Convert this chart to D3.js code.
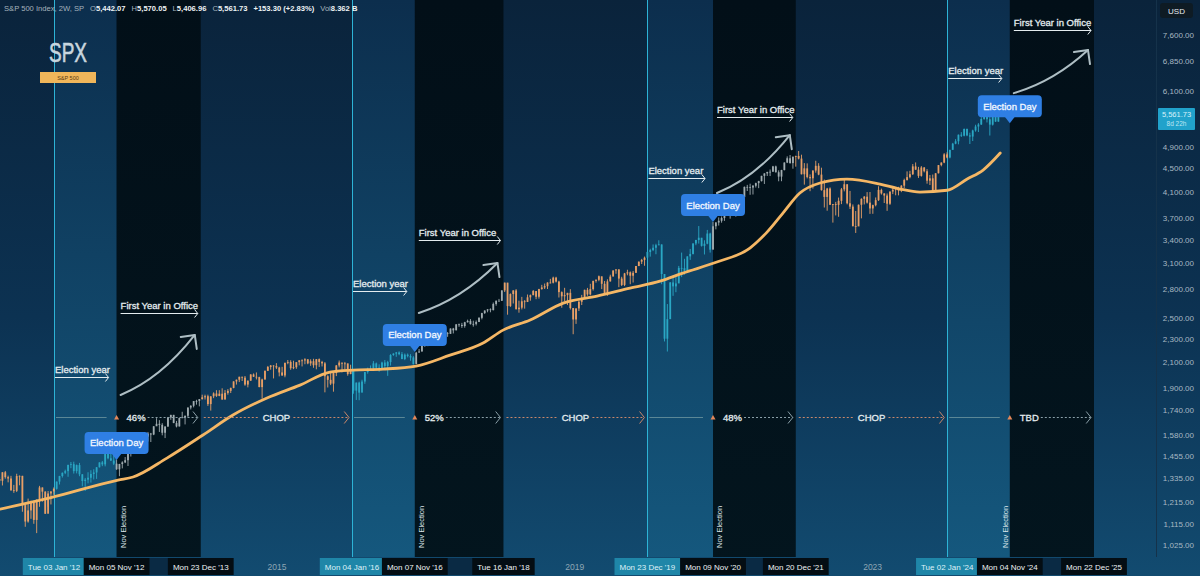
<!DOCTYPE html>
<html>
<head>
<meta charset="utf-8">
<script src="https://cdn.jsdelivr.net/npm/d3@7"></script>
<style>
  html, body { margin: 0; padding: 0; background: #0b2740; }
  svg { display: block; font-family: 'Liberation Sans', Arial, sans-serif; }
</style>
</head>
<body>
<svg id="chart" width="1200" height="576"></svg>
<script>
// ---- data (SPX, 2W bars; first bar opens 2011-04-11, one bar every 14 days) ----
const barStart = "2011-04-11";
const firstOpen = 1328;
const closes = [
  // 2011
  1319,1364,1338,1331,1271,1268,1344,1345,1199,1124,1174,1216,1131,1225,1285,1264,1159,1255,1265,1278,
  // 2012
  1315,1344,1361,1370,1404,1408,1370,1403,1353,1318,1325,1335,1355,1363,1391,1418,1407,1466,1441,1428,1411,1380,1409,1418,1430,1466,
  // 2013
  1486,1513,1519,1518,1561,1569,1588,1582,1634,1650,1643,1593,1632,1692,1709,1655,1633,1688,1692,1703,1759,1771,1804,1805,1818,1831,
  // 2014
  1839,1783,1838,1859,1841,1857,1815,1863,1878,1900,1949,1962,1985,1978,1925,1955,2003,1985,1982,1906,1964,2032,2063,2075,2070,2058,
  // 2015
  2019,1995,2097,2104,2053,2061,2102,2117,2116,2126,2092,2110,2077,2127,2104,2092,1989,1961,1932,2014,2075,2099,2089,2092,2006,2044,
  // 2016
  1880,1940,1865,1948,2022,2035,2048,2092,2057,2052,2099,2071,2103,2162,2174,2184,2169,2128,2165,2153,2141,2085,2182,2192,2258,2239,
  // 2017
  2275,2295,2317,2367,2373,2344,2355,2349,2399,2382,2439,2433,2423,2459,2472,2441,2443,2461,2502,2549,2575,2587,2579,2642,2675,2674,
  // 2018
  2787,2873,2620,2747,2786,2588,2604,2670,2663,2712,2735,2780,2718,2801,2819,2833,2874,2872,2930,2885,2768,2723,2736,2760,2600,2486,
  // 2019
  2596,2665,2707,2793,2743,2801,2893,2905,2946,2860,2752,2887,2942,3014,3026,2919,2847,2979,2992,2952,2986,3067,3120,3141,3169,3240,
  // 2020
  3265,3295,3328,3338,2972,2305,2489,2875,2831,2864,3044,3041,3009,3185,3216,3351,3397,3427,3319,3348,3484,3270,3585,3638,3663,3703,
  // 2021
  3825,3841,3886,3907,3842,3913,4020,4185,4181,4174,4204,4247,4281,4370,4412,4437,4442,4535,4433,4357,4471,4605,4683,4595,4712,4725,
  // 2022
  4677,4398,4501,4349,4329,4463,4546,4392,4132,4023,4158,3901,3912,3899,3962,4145,4228,3924,3873,3586,3583,3901,3993,4027,3934,3845,
  // 2023
  3895,3972,4136,4079,4045,3917,4109,4138,4169,4124,4205,4299,4348,4399,4536,4478,4370,4516,4450,4288,4328,4117,4415,4559,4604,4755,
  // 2024
  4697,4840,4959,5006,5137,5117,5254,5123,5100,5223,5305,5347,5465,5615,5459,5344,5634,5408,5562
];
const highs = [
  1339,1364,1371,1346,1345,1298,1356,1347,1345,1208,1230,1220,1220,1225,1293,1285,1266,1267,1266,1285,
  1315,1345,1363,1378,1405,1420,1422,1406,1415,1354,1334,1364,1375,1380,1392,1418,1426,1474,1467,1471,1464,1434,1410,1424,1448,1467,
  1486,1514,1525,1530,1564,1570,1598,1592,1635,1687,1674,1654,1635,1693,1709,1709,1669,1690,1730,1704,1759,1775,1804,1813,1818,1850,
  1850,1850,1838,1867,1883,1883,1897,1884,1891,1902,1950,1963,1985,1985,1991,1955,2005,2011,2019,1985,1970,2034,2071,2079,2076,2094,
  2064,2064,2097,2120,2118,2114,2102,2120,2126,2135,2126,2126,2130,2128,2133,2113,2103,1997,2021,2016,2079,2116,2093,2104,2090,2081,
  2038,1940,1947,1962,2022,2057,2075,2111,2099,2084,2106,2120,2113,2169,2177,2188,2193,2187,2175,2175,2169,2152,2189,2214,2278,2273,
  2282,2300,2319,2368,2401,2390,2378,2366,2400,2405,2440,2446,2453,2463,2484,2490,2474,2476,2508,2552,2576,2588,2597,2657,2679,2695,
  2787,2873,2870,2754,2789,2801,2676,2717,2683,2742,2742,2791,2774,2804,2848,2863,2876,2916,2941,2940,2894,2776,2815,2760,2800,2601,
  2597,2681,2738,2794,2814,2860,2894,2910,2954,2932,2892,2911,2964,3014,3028,3028,2940,2985,3022,3002,3008,3067,3121,3154,3183,3248,
  3282,3338,3347,3393,3338,2864,2641,2880,2955,2954,3068,3233,3155,3186,3280,3352,3399,3588,3425,3393,3534,3496,3646,3645,3712,3726,
  3826,3861,3887,3950,3929,3983,4020,4191,4218,4238,4214,4255,4286,4372,4415,4442,4481,4545,4549,4466,4475,4608,4718,4743,4713,4731,
  4818,4749,4595,4590,4395,4464,4637,4593,4513,4307,4169,4177,3913,3946,4013,4167,4325,4229,4119,3906,3807,3905,4001,4038,4100,4101,
  3903,4015,4195,4156,4080,4078,4110,4164,4170,4186,4213,4322,4448,4458,4578,4607,4527,4541,4524,4488,4385,4393,4415,4560,4609,4778,
  4794,4842,4975,5048,5140,5189,5264,5263,5178,5239,5342,5376,5506,5655,5670,5566,5643,5651,5570
];
const lows = [
  1306,1295,1330,1311,1268,1258,1262,1296,1168,1101,1119,1136,1114,1074,1191,1215,1158,1191,1202,1248,
  1274,1300,1336,1354,1340,1386,1357,1358,1343,1291,1267,1306,1310,1326,1329,1390,1397,1396,1435,1426,1403,1377,1343,1385,1414,1398,
  1451,1485,1495,1485,1515,1538,1539,1536,1578,1636,1598,1577,1560,1632,1676,1654,1627,1633,1688,1646,1692,1746,1760,1779,1767,1815,
  1815,1770,1738,1825,1834,1839,1814,1816,1850,1862,1897,1925,1944,1952,1916,1904,1953,1984,1964,1905,1821,1962,2030,2041,1972,2046,
  1988,1993,1981,2085,2040,2045,2048,2076,2067,2085,2085,2072,2056,2044,2063,2067,1867,1903,1921,1872,1990,2059,2019,2042,1993,2005,
  1857,1812,1810,1891,1931,2009,2033,2039,2039,2025,2047,2051,1992,2074,2155,2147,2160,2127,2119,2142,2114,2084,2097,2187,2192,2234,
  2245,2258,2267,2315,2357,2322,2322,2322,2351,2353,2383,2415,2405,2407,2456,2437,2417,2428,2474,2487,2541,2557,2557,2576,2624,2673,
  2682,2769,2533,2612,2647,2586,2553,2586,2594,2662,2676,2734,2692,2698,2795,2802,2802,2864,2864,2875,2710,2603,2671,2631,2585,2346,
  2443,2570,2631,2704,2728,2733,2785,2873,2889,2801,2750,2728,2885,2952,2975,2822,2835,2834,2957,2855,2874,2985,3065,3091,3070,3176,
  3182,3252,3212,3328,2855,2280,2192,2664,2728,2767,2887,2936,2965,3000,3142,3209,3328,3349,3310,3209,3340,3233,3279,3542,3595,3636,
  3662,3753,3694,3880,3723,3805,3853,4020,4118,4057,4062,4174,4164,4275,4233,4368,4367,4442,4427,4278,4279,4465,4595,4585,4495,4531,
  4662,4395,4222,4327,4115,4157,4425,4381,4124,3859,3811,3900,3637,3741,3721,3911,4112,3907,3837,3584,3492,3600,3698,3906,3919,3764,
  3765,3877,3960,4060,3928,3809,3899,4068,4049,4048,4099,4166,4290,4328,4385,4474,4335,4357,4430,4238,4216,4104,4103,4412,4537,4593,
  4682,4682,4844,4948,4946,5091,5104,5107,4953,5011,5198,5191,5337,5447,5390,5120,5325,5403,5407
];

// moving average
const maDates = ["2011-04-13","2011-12-14","2012-11-12","2013-01-25","2013-07-10","2014-01-03","2014-05-30","2014-11-13",
  "2015-04-24","2015-09-18","2016-01-09","2016-06-04","2016-11-13","2017-04-29","2017-10-08","2018-01-14","2018-05-27",
  "2018-11-05","2019-04-20","2019-09-29","2020-02-23","2020-06-14","2020-11-28","2021-05-09","2021-08-01","2021-10-18",
  "2022-01-09","2022-04-18","2022-08-28","2023-02-06","2023-05-15","2023-08-21","2024-01-02","2024-04-09","2024-06-26","2024-09-18"];
const maValues = [1180,1233,1323,1339,1442,1579,1708,1826,1921,2022,2038,2046,2070,2161,2266,2384,2480,2651,2725,2812,
  2890,2983,3115,3291,3504,3776,4085,4249,4316,4232,4150,4101,4130,4316,4471,4780];

// presidential cycle markers
const electionYearStart = ["2012-01-03","2016-01-04","2019-12-23","2024-01-02"];
const electionDay = ["2012-11-05","2016-11-07","2020-11-09","2024-11-04"];
const firstYearEnd = ["2013-12-23","2018-01-16","2021-12-20","2025-12-22"];
const cycleResult = ["46%","52%","48%","TBD"];
// price anchors of the drawings
const electionYearArrowPrice = [1983, 2780, 4333, 6416];
const firstYearArrowPrice = [2550, 3396, 5504, 7750];
const curveFromPrice = [1848, 2550, 4085, 6048];
const curveToPrice = [2339, 3103, 5128, 7164];
const electionDayPrice = [1432, 2188, 3645, 5375];
const resultRowPrice = 1695;

const yearTicks = ["2015-01-01","2019-01-01","2023-01-01"];
const priceTicks = [1025,1115,1215,1335,1455,1580,1740,1900,2100,2300,2500,2800,3100,3400,3700,4100,4500,4900,6100,6850,7600];
const lastPrice = 5561.73;
const headerKeys = ["O","H","L","C"];
const headerValues = ["5,442.07","5,570.05","5,406.96","5,561.73"];
const headerChange = "+153.30 (+2.83%)";
const headerVolume = "8.362 B";

// ---- chart ----
const W = 1200, H = 576, plotR = 1156, plotB = 557;
const svg = d3.select("#chart");
const parse = d3.timeParse("%Y-%m-%d");
const fmtDate = d3.timeFormat("%a %d %b '%y");

const x = d3.scaleTime()
  .domain([parse("2012-01-03"), parse("2025-12-22")])
  .range([54, 1094]);
const y = d3.scaleLog()
  .domain([1025, 7600])
  .range([545, 35]);

const E = electionYearStart.map(parse);
const N = electionDay.map(parse);
const F = firstYearEnd.map(parse);

// gradients
const defs = svg.append("defs");
function vGrad(id, stops) {
  const g = defs.append("linearGradient").attr("id", id)
    .attr("gradientUnits", "userSpaceOnUse")
    .attr("x1", 0).attr("y1", 0).attr("x2", 0).attr("y2", H);
  stops.forEach(s => g.append("stop").attr("offset", s[0]).attr("stop-color", s[1]));
}
vGrad("gBase", [[0, "#0a233b"], [0.55, "#0c3252"], [1, "#124b70"]]);
vGrad("gElect", [[0, "#0c2e4d"], [1, "#15597f"]]);
vGrad("gFirst", [[0, "#020f18"], [1, "#03151e"]]);
defs.append("clipPath").attr("id", "plotClip")
  .append("rect").attr("width", plotR).attr("height", plotB);

svg.append("rect").attr("width", W).attr("height", H).attr("fill", "url(#gBase)");

// cycle bands
const bands = svg.append("g").attr("clip-path", "url(#plotClip)");
E.forEach((e, i) => {
  bands.append("rect")
    .attr("x", x(e)).attr("y", 0)
    .attr("width", x(N[i]) - x(e)).attr("height", plotB)
    .attr("fill", "url(#gElect)");
  bands.append("rect")
    .attr("x", x(N[i])).attr("y", 0)
    .attr("width", x(F[i]) - x(N[i])).attr("height", plotB)
    .attr("fill", "url(#gFirst)");
  bands.append("line")
    .attr("x1", Math.round(x(e)) + 0.5).attr("x2", Math.round(x(e)) + 0.5)
    .attr("y1", 0).attr("y2", plotB)
    .attr("stroke", "#2db3d6").attr("stroke-width", 1);
});

// price axis separator
svg.append("line")
  .attr("x1", plotR + 0.5).attr("x2", plotR + 0.5).attr("y1", 0).attr("y2", plotB)
  .attr("stroke", "#15324a");

// candles
function phaseOf(d) {
  for (let i = 0; i < E.length; i++) {
    if (d >= E[i] && d < N[i]) return "elect";
    if (d >= N[i] && d < F[i]) return "first";
  }
  return "chop";
}
const phaseColor = { elect: "#2aa7c4", first: "#a2adb1", chop: "#e89f66" };
const t0 = parse(barStart);
const bars = closes.map((c, i) => ({
  date: d3.timeDay.offset(t0, 14 * i),
  open: i ? closes[i - 1] : firstOpen,
  high: highs[i],
  low: lows[i],
  close: c
}));

const candles = svg.append("g").attr("clip-path", "url(#plotClip)");
const cg = candles.selectAll("g").data(bars).join("g")
  .attr("fill", d => phaseColor[phaseOf(d.date)])
  .attr("stroke", d => phaseColor[phaseOf(d.date)]);
cg.append("line")
  .attr("x1", d => x(d.date)).attr("x2", d => x(d.date))
  .attr("y1", d => y(d.high)).attr("y2", d => y(d.low))
  .attr("stroke-width", 0.9);
cg.append("rect")
  .attr("stroke", "none")
  .attr("x", d => x(d.date) - 0.9)
  .attr("width", 1.8)
  .attr("y", d => y(Math.max(d.open, d.close)))
  .attr("height", d => Math.max(0.8, Math.abs(y(d.open) - y(d.close))));

// moving average
const maLine = d3.line()
  .x(d => x(d[0]))
  .y(d => y(d[1]))
  .curve(d3.curveMonotoneX);
candles.append("path")
  .datum(maDates.map((d, i) => [parse(d), maValues[i]]))
  .attr("d", maLine)
  .attr("fill", "none")
  .attr("stroke", "#f5b765")
  .attr("stroke-width", 2.8)
  .attr("stroke-linecap", "round");

// annotations
const ann = svg.append("g");
const white = "#e4ecef";

function label(xx, yy, txt, size, fill) {
  return ann.append("text")
    .attr("x", xx).attr("y", yy)
    .attr("font-size", size).attr("fill", fill)
    .attr("stroke", fill).attr("stroke-width", 0.3)
    .text(txt);
}

function hArrow(x1, x2, yy, color, dash, head) {
  const h = head || 4;
  ann.append("line")
    .attr("x1", x1).attr("x2", x2).attr("y1", yy).attr("y2", yy)
    .attr("stroke", color).attr("stroke-width", 1)
    .attr("stroke-dasharray", dash || null);
  ann.append("path")
    .attr("d", `M${x2 - h * 0.8},${yy - h}L${x2},${yy}L${x2 - h * 0.8},${yy + h}`)
    .attr("fill", "none").attr("stroke", color).attr("stroke-width", 1);
}

E.forEach((e, i) => {
  const xe = x(e), xn = x(N[i]), xf = x(F[i]);

  // Election year
  const ya = Math.round(y(electionYearArrowPrice[i])) + 0.5;
  label(xe + 1, ya - 4.5, "Election year", 9.5, white);
  hArrow(xe + 1, xn - 8, ya, white);

  // First Year in Office
  const yb = Math.round(y(firstYearArrowPrice[i])) + 0.5;
  label(xn + 4, yb - 5, "First Year in Office", 9.5, white);
  hArrow(xn + 4, xf - 3, yb, white);

  // curved up-arrow
  const x0 = xn + 4, y0 = y(curveFromPrice[i]);
  const x1 = xf - 6, y1 = y(curveToPrice[i]);
  ann.append("path")
    .attr("d", `M${x0},${y0}Q${x0 + 0.54 * (x1 - x0)},${y0 + 0.27 * (y1 - y0)} ${x1},${y1}`)
    .attr("fill", "none").attr("stroke", "#aebec4").attr("stroke-width", 2)
    .attr("stroke-linecap", "round");
  ann.append("path")
    .attr("d", `M${x1 - 14},${y1 + 2}L${x1},${y1}L${x1 + 2},${y1 + 14}`)
    .attr("fill", "none").attr("stroke", "#aebec4").attr("stroke-width", 2)
    .attr("stroke-linecap", "round").attr("stroke-linejoin", "round");

  // Election Day callout
  const yt = y(electionDayPrice[i]);
  ann.append("rect")
    .attr("x", xn - 32).attr("y", yt - 28)
    .attr("width", 64).attr("height", 22).attr("rx", 4)
    .attr("fill", "#2f7fe4");
  ann.append("path")
    .attr("d", `M${xn - 5},${yt - 6.5}L${xn},${yt}L${xn + 5},${yt - 6.5}Z`)
    .attr("fill", "#2f7fe4");
  label(xn, yt - 13.5, "Election Day", 9.5, "#f2f7ff").attr("text-anchor", "middle");

  // result row
  const yr = Math.round(y(resultRowPrice)) + 0.5;
  ann.append("line")
    .attr("x1", xe + 2).attr("x2", xn - 10).attr("y1", yr).attr("y2", yr)
    .attr("stroke", "#5b8796").attr("stroke-width", 1);
  ann.append("path")
    .attr("d", `M${xn - 2.5},${yr + 2}L${xn},${yr - 2.5}L${xn + 2.5},${yr + 2}Z`)
    .attr("fill", "#e3875a");
  label(xn + 10, yr + 3.5, cycleResult[i], 9.5, white);
  hArrow(xn + 31, xf - 3, yr, "#8a9fa8", "2,2", 6);

  if (i < E.length - 1) {
    const xnext = x(E[i + 1]);
    const mid = (xf + xnext) / 2;
    ann.append("line")
      .attr("x1", xf + 3).attr("x2", mid - 17).attr("y1", yr).attr("y2", yr)
      .attr("stroke", "#c9876a").attr("stroke-dasharray", "2,2");
    label(mid, yr + 3.5, "CHOP", 9.5, white).attr("text-anchor", "middle");
    hArrow(mid + 17, xnext - 3, yr, "#c9876a", "2,2", 6);
  }

  // vertical "Nov Election" label
  const lx = i < E.length - 1 ? xn + 9 : xn - 2;
  ann.append("text")
    .attr("transform", `translate(${lx},548) rotate(-90)`)
    .attr("font-size", 7.5).attr("fill", "#dde6e9")
    .text("Nov Election");
});

// time axis row
const axisG = svg.append("g");
const rowY = 558, rowH = 17;
N.forEach((n, i) => {
  axisG.append("rect")
    .attr("x", x(n)).attr("y", rowY)
    .attr("width", x(F[i]) - x(n)).attr("height", rowH)
    .attr("fill", "#0a2a44");
});
function axisLabel(d, fill, color) {
  const g = axisG.append("g");
  const r = g.append("rect").attr("y", rowY).attr("height", rowH).attr("fill", fill);
  const t = g.append("text")
    .attr("x", x(d)).attr("y", rowY + 12)
    .attr("text-anchor", "middle")
    .attr("font-size", 8).attr("fill", color)
    .text(fmtDate(d));
  const w = t.node().getComputedTextLength() + 10;
  r.attr("x", x(d) - w / 2).attr("width", w);
}
E.forEach((e, i) => {
  axisLabel(e, "#1f86a8", "#dff2f8");
  axisLabel(N[i], "#040d13", "#eef2f4");
  axisLabel(F[i], "#040d13", "#eef2f4");
});
yearTicks.map(parse).forEach(d => {
  axisG.append("text")
    .attr("x", x(d)).attr("y", rowY + 12)
    .attr("text-anchor", "middle")
    .attr("font-size", 8.5).attr("fill", "#8ea6b4")
    .text(d3.timeFormat("%Y")(d));
});

// price axis
const pAxis = svg.append("g");
pAxis.selectAll("text").data(priceTicks).join("text")
  .attr("x", 1194).attr("y", d => y(d) + 3)
  .attr("text-anchor", "end")
  .attr("font-size", 8).attr("fill", "#a8b8c3")
  .text(d3.format(",.2f"));

const yl = y(lastPrice);
pAxis.append("rect")
  .attr("x", 1158).attr("y", yl - 6.5)
  .attr("width", 37).attr("height", 22).attr("rx", 1)
  .attr("fill", "#21a2cb");
pAxis.append("text")
  .attr("x", 1176.5).attr("y", yl + 3)
  .attr("text-anchor", "middle")
  .attr("font-size", 7.5).attr("fill", "#d8f1f9")
  .text(d3.format(",.2f")(lastPrice));
pAxis.append("text")
  .attr("x", 1176.5).attr("y", yl + 12)
  .attr("text-anchor", "middle")
  .attr("font-size", 6.5).attr("fill", "#bfe6f3")
  .text("8d 22h");

pAxis.append("rect")
  .attr("x", 1160).attr("y", 3).attr("width", 33).attr("height", 15).attr("rx", 3)
  .attr("fill", "#0e1b24");
pAxis.append("text")
  .attr("x", 1176.5).attr("y", 13.5)
  .attr("text-anchor", "middle")
  .attr("font-size", 8).attr("fill", "#e8eef2")
  .text("USD");

// header legend
const head = svg.append("text").attr("x", 4).attr("y", 11).attr("font-size", 7.6);
head.append("tspan").attr("fill", "#a5b3bc").text("S&P 500 Index, 2W, SP");
headerKeys.forEach((k, i) => {
  head.append("tspan").attr("dx", 6).attr("fill", "#a5b3bc").text(k);
  head.append("tspan").attr("fill", "#eef3f6").attr("font-weight", "bold").text(headerValues[i]);
});
head.append("tspan").attr("dx", 6).attr("fill", "#eef3f6").attr("font-weight", "bold").text(headerChange);
head.append("tspan").attr("dx", 6).attr("fill", "#a5b3bc").text("Vol");
head.append("tspan").attr("fill", "#eef3f6").attr("font-weight", "bold").text(headerVolume);

// symbol badge
svg.append("text")
  .attr("x", 49).attr("y", 62)
  .attr("font-size", 27).attr("fill", "#c8d6de")
  .attr("stroke", "#c8d6de").attr("stroke-width", 0.6)
  .attr("textLength", 38).attr("lengthAdjust", "spacingAndGlyphs")
  .text("SPX");
svg.append("rect")
  .attr("x", 40).attr("y", 72).attr("width", 56).attr("height", 11)
  .attr("fill", "#f0b65a");
svg.append("text")
  .attr("x", 68).attr("y", 80)
  .attr("text-anchor", "middle")
  .attr("font-size", 5.5).attr("fill", "#5a3a12")
  .text("S&P 500");
</script>
</body>
</html>
